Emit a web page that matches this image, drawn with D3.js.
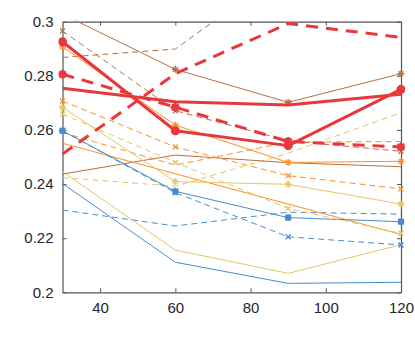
<!DOCTYPE html>
<html>
<head>
<meta charset="utf-8">
<script src="https://cdn.jsdelivr.net/npm/d3@7"></script>
<style>
  body { margin: 0; background: #fff; }
  svg { font-family: "Liberation Sans", Arial, sans-serif; }
  .axis path, .axis line { stroke: #555; }
  .axis text { fill: #262626; font-size: 15px; }
</style>
</head>
<body>
<div id="chart"></div>
<script>
// x positions shared by every series
var xValues = [30, 60, 90, 120];
var xTicks = [40, 60, 80, 100, 120];
var yTicks = [0.2, 0.22, 0.24, 0.26, 0.28, 0.3];

// blue
var blueSolidMark = [0.2597, 0.2373, 0.2276, 0.2261];
var blueDashMark  = [0.2597, 0.2368, 0.2205, 0.2175];
var blueSolid     = [0.2402, 0.2111, 0.2033, 0.2037];
var blueDash      = [0.2304, 0.2245, 0.2296, 0.2289];
// yellow
var yellowSolidMark = [0.2683, 0.2409, 0.2399, 0.2326];
var yellowDashMark  = [0.2659, 0.2480, 0.2310, 0.2218];
var yellowSolid     = [0.2446, 0.2156, 0.2070, 0.2176];
var yellowDash      = [0.2424, 0.2392, 0.2514, 0.2664];
// orange
var orangeSolidMark = [0.2907, 0.2618, 0.2480, 0.2484];
var orangeDashMark  = [0.2707, 0.2537, 0.2431, 0.2382];
var orangeSolid     = [0.2551, 0.2438, 0.2326, 0.2214];
var orangeDash      = [0.2590, 0.2470, 0.2555, 0.2557];
// brown
var brownSolidMark = [0.3028, 0.2824, 0.2702, 0.2808];
var brownDashMark  = [0.2966, 0.2671, 0.2560, 0.2521];
var brownSolid     = [0.2437, 0.2507, 0.2479, 0.2464];
var brownDash      = [0.2868, 0.2899, 0.3200, 0.3300];
// red (thick)
var redSolidMark = [0.2926, 0.2597, 0.2542, 0.2750];
var redDashMark  = [0.2806, 0.2684, 0.2557, 0.2537];
var redSolid     = [0.2754, 0.2704, 0.2692, 0.2732];
var redDash      = [0.2511, 0.2808, 0.2993, 0.2942];

var C = { blue: "#4a8ccc", yellow: "#e3c767", orange: "#ff8e24", brown: "#b8713f", red: "#e8383b" };

var series = [
  { v: blueSolid, c: C.blue, dash: null, m: null, w: 1 },
  { v: blueDash, c: C.blue, dash: "6,4", m: null, w: 1 },
  { v: yellowSolid, c: C.yellow, dash: null, m: null, w: 1 },
  { v: yellowDash, c: C.yellow, dash: "6,4", m: null, w: 1 },
  { v: brownSolid, c: C.brown, dash: null, m: null, w: 1 },
  { v: brownDash, c: C.brown, dash: "6,4", m: null, w: 1 },
  { v: orangeSolid, c: C.orange, dash: null, m: null, w: 1 },
  { v: orangeDash, c: C.orange, dash: "6,4", m: null, w: 1 },
  { v: blueDashMark, c: C.blue, dash: "6,4", m: "x", w: 1 },
  { v: blueSolidMark, c: C.blue, dash: null, m: "sq", w: 1 },
  { v: yellowDashMark, c: C.yellow, dash: "6,4", m: "x", w: 1 },
  { v: yellowSolidMark, c: C.yellow, dash: null, m: "star", w: 1 },
  { v: brownDashMark, c: C.brown, dash: "6,4", m: "x", w: 1 },
  { v: brownSolidMark, c: C.brown, dash: null, m: "star", w: 1 },
  { v: orangeDashMark, c: C.orange, dash: "6,4", m: "x", w: 1 },
  { v: orangeSolidMark, c: C.orange, dash: null, m: "star", w: 1 },
  { v: redDash, c: C.red, dash: "12,8", m: null, w: 3 },
  { v: redSolid, c: C.red, dash: null, m: null, w: 3 },
  { v: redDashMark, c: C.red, dash: "12,8", m: "bigstar", w: 3 },
  { v: redSolidMark, c: C.red, dash: null, m: "dot", w: 3 }
];

var W = 415, H = 340;
var margin = { top: 21.7, right: 14, bottom: 47.7, left: 62.5 };
var width = W - margin.left - margin.right,
    height = H - margin.top - margin.bottom;

var svg = d3.select("#chart").append("svg").attr("width", W).attr("height", H);

var x = d3.scaleLinear().domain([30, 120]).range([0, width]);
var y = d3.scaleLinear().domain([0.2, 0.3]).range([height, 0]);

svg.append("defs").append("clipPath").attr("id", "clip")
  .append("rect").attr("x", -4).attr("y", -1).attr("width", width + 8).attr("height", height + 2);

var g = svg.append("g").attr("transform", "translate(" + margin.left + "," + margin.top + ")");

// axes box with inward ticks
var fmtY = function(d) { return d3.format(".2~f")(d); };
g.append("g").attr("class", "axis").attr("transform", "translate(0," + height + ")")
  .call(d3.axisBottom(x).tickValues(xTicks).tickSizeInner(-4).tickSizeOuter(0).tickPadding(10));
g.append("g").attr("class", "axis")
  .call(d3.axisLeft(y).tickValues(yTicks).tickFormat(fmtY).tickSizeInner(-4).tickSizeOuter(0).tickPadding(9));
g.append("g").attr("class", "axis")
  .call(d3.axisTop(x).tickValues(xTicks).tickSizeInner(-4).tickSizeOuter(0).tickFormat(""));
g.append("g").attr("class", "axis").attr("transform", "translate(" + width + ",0)")
  .call(d3.axisRight(y).tickValues(yTicks).tickSizeInner(-4).tickSizeOuter(0).tickFormat(""));
g.selectAll(".axis path").attr("stroke-width", 1.2);

var plot = g.append("g").attr("clip-path", "url(#clip)");
var line = d3.line().x(function(d, i) { return x(xValues[i]); }).y(function(d) { return y(d); });

function marker(sel, s) {
  var r = s.m === "bigstar" ? 4.5 : 3.5;
  s.v.forEach(function(v, i) {
    var px = x(xValues[i]), py = y(v);
    if (py < -2 || py > height + 2) return;
    var mg = sel.append("g").attr("transform", "translate(" + px + "," + py + ")")
      .attr("stroke", s.c).attr("fill", s.c);
    if (s.m === "dot") {
      mg.append("circle").attr("r", 4.5).attr("stroke", "none");
      return;
    }
    if (s.m === "sq") {
      mg.append("rect").attr("x", -3).attr("y", -3).attr("width", 6).attr("height", 6).attr("stroke", "none");
    }
    var angles = s.m === "x" ? [45, 135] : [0, 45, 90, 135];
    angles.forEach(function(a) {
      var rad = a * Math.PI / 180;
      mg.append("line")
        .attr("x1", -r * Math.cos(rad)).attr("y1", -r * Math.sin(rad))
        .attr("x2", r * Math.cos(rad)).attr("y2", r * Math.sin(rad))
        .attr("stroke-width", s.m === "bigstar" ? 2.5 : 1.3);
    });
  });
}

series.forEach(function(s) {
  plot.append("path")
    .datum(s.v)
    .attr("d", line)
    .attr("fill", "none")
    .attr("stroke", s.c)
    .attr("stroke-width", s.w)
    .attr("stroke-dasharray", s.dash)
    .attr("stroke-linejoin", "round");
  if (s.m) marker(plot, s);
});
</script>
</body>
</html>
